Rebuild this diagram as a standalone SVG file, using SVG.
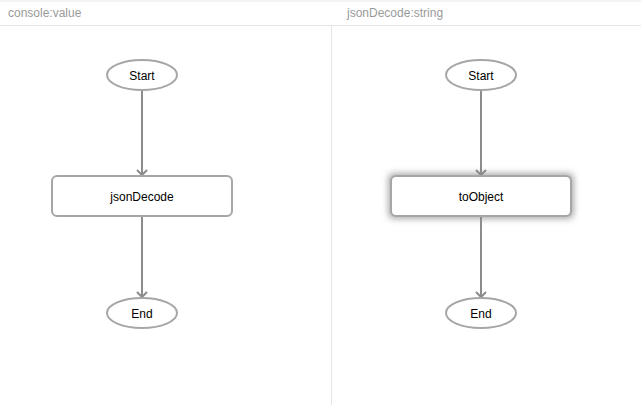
<svg xmlns="http://www.w3.org/2000/svg" width="641" height="405" viewBox="0 0 641 405">
<defs>
<style>
.hdr{font-family:"Liberation Sans",Arial,sans-serif;font-size:12px;fill:#9a9a9a}
.lbl{font-family:"Liberation Sans",Arial,sans-serif;font-size:12px;fill:#000;text-anchor:middle}
.shape{fill:#fff;stroke:#a6a6a6;stroke-width:2}
.edge{stroke:#8c8c8c;stroke-width:2;fill:none}
</style>
<marker id="arr" markerWidth="12" markerHeight="12" refX="6" refY="6" orient="auto" markerUnits="userSpaceOnUse" viewBox="0 0 12 12">
<path d="M1,1 L6,6 L1,11" fill="none" stroke="#8c8c8c" stroke-width="2"/>
</marker>
<filter id="glow" x="-20%" y="-60%" width="140%" height="220%">
<feMorphology in="SourceAlpha" operator="dilate" radius="2" result="d"/>
<feGaussianBlur in="d" stdDeviation="3" result="b"/>
<feFlood flood-color="#8a8a8a" flood-opacity="0.7"/>
<feComposite in2="b" operator="in" result="s"/>
<feMerge><feMergeNode in="s"/><feMergeNode in="SourceGraphic"/></feMerge>
</filter>
</defs>
<rect width="641" height="405" fill="#fff"/>
<g id="header">
<line x1="0" y1="1" x2="641" y2="1" stroke="#e6e6e6" stroke-width="1"/>
<line x1="0" y1="25.5" x2="641" y2="25.5" stroke="#e3e3e3" stroke-width="1"/>
<line x1="331.5" y1="26" x2="331.5" y2="405" stroke="#e6e6e6" stroke-width="1"/>
<text class="hdr" x="8" y="17">console:value</text>
<text class="hdr" x="347" y="17">jsonDecode:string</text>
</g>
<g id="connectors">
<line class="edge" x1="142" y1="91" x2="142" y2="175" marker-end="url(#arr)"/>
<line class="edge" x1="142" y1="217" x2="142" y2="297" marker-end="url(#arr)"/>
<line class="edge" x1="481" y1="91" x2="481" y2="175" marker-end="url(#arr)"/>
<line class="edge" x1="481" y1="217" x2="481" y2="297" marker-end="url(#arr)"/>
</g>
<g id="start1">
<ellipse class="shape" cx="142" cy="75" rx="35" ry="15"/>
<text class="lbl" x="142" y="79.5">Start</text>
</g>
<g id="jsonDecode">
<rect class="shape" x="52" y="176" width="180" height="40" rx="5"/>
<text class="lbl" x="142" y="200.5">jsonDecode</text>
</g>
<g id="end1">
<ellipse class="shape" cx="142" cy="313" rx="35" ry="15"/>
<text class="lbl" x="142" y="317.5">End</text>
</g>
<g id="start2">
<ellipse class="shape" cx="481" cy="75" rx="35" ry="15"/>
<text class="lbl" x="481" y="79.5">Start</text>
</g>
<g id="toObject">
<rect class="shape" x="391" y="176" width="180" height="40" rx="5" filter="url(#glow)"/>
<text class="lbl" x="481" y="200.5">toObject</text>
</g>
<g id="end2">
<ellipse class="shape" cx="481" cy="313" rx="35" ry="15"/>
<text class="lbl" x="481" y="317.5">End</text>
</g>
</svg>
